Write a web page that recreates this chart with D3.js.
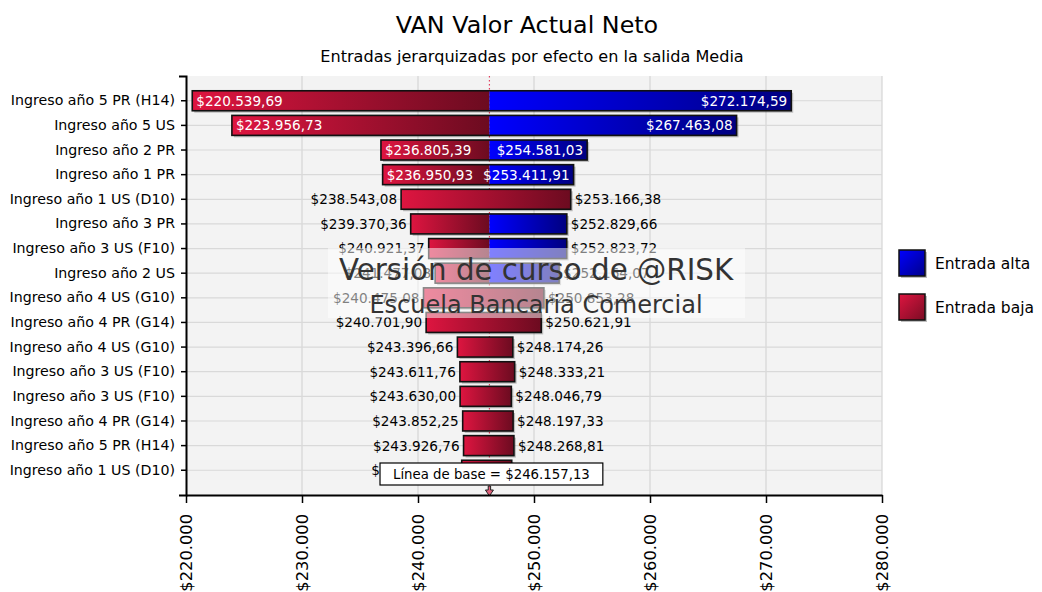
<!DOCTYPE html>
<html><head><meta charset="utf-8">
<script src="https://cdn.jsdelivr.net/npm/d3@7"></script>
<style>body{margin:0;background:#fff}</style>
</head><body>
<svg id="c" width="1042" height="592"></svg>
<script>
const categories = [
  "Ingreso año 5 PR (H14)", "Ingreso año 5 US", "Ingreso año 2 PR", "Ingreso año 1 PR",
  "Ingreso año 1 US (D10)", "Ingreso año 3 PR", "Ingreso año 3 US (F10)", "Ingreso año 2 US",
  "Ingreso año 4 US (G10)", "Ingreso año 4 PR (G14)", "Ingreso año 4 US (G10)", "Ingreso año 3 US (F10)",
  "Ingreso año 3 US (F10)", "Ingreso año 4 PR (G14)", "Ingreso año 5 PR (H14)", "Ingreso año 1 US (D10)"
];
const lowValues = [220539.69, 223956.73, 236805.39, 236950.93, 238543.08, 239370.36, 240921.37, 241477.08,
  240475.08, 240701.90, 243396.66, 243611.76, 243630.00, 243852.25, 243926.76, 243770.00];
const highValues = [272174.59, 267463.08, 254581.03, 253411.91, 253166.38, 252829.66, 252823.72, 252164.07,
  250853.28, 250621.91, 248174.26, 248333.21, 248046.79, 248197.33, 248268.81, 248080.00];
// which input drives the right-hand end of each bar
const rightSeries = ["alta","alta","alta","alta","baja","alta","alta","alta",
  "baja","baja","baja","baja","baja","baja","baja","baja"];
const seriesNames = ["Entrada alta", "Entrada baja"];
const xTickValues = [220000, 230000, 240000, 250000, 260000, 270000, 280000];
const baselineValue = 246157.13;
const titleText = "VAN Valor Actual Neto";
const subtitleText = "Entradas jerarquizadas por efecto en la salida Media";
const watermarkLines = ["Versión de curso de @RISK", "Escuela Bancaria Comercial"];

const FONT = "DejaVu Sans, Verdana, sans-serif";
const loc = d3.formatLocale({decimal: ",", thousands: ".", grouping: [3], currency: ["$", ""]});
const fmtTick = loc.format("$,.0f");
const fmtVal = loc.format("$,.2f");

const svg = d3.select("#c");
const plot = {l: 186, r: 882, t: 76, b: 495};
const x = d3.scaleLinear().domain([xTickValues[0], xTickValues[xTickValues.length-1]]).range([plot.l, plot.r]);
const y = d3.scaleBand().domain(d3.range(categories.length)).range([plot.t, plot.b]).paddingInner(0.19).paddingOuter(0.6);
const color = d3.scaleOrdinal().domain(seriesNames).range(["url(#gBlue)", "url(#gRed)"]);

const defs = svg.append("defs");
function grad(id, c0, c1, diag) {
  const g = defs.append("linearGradient").attr("id", id).attr("x1", 0).attr("y1", 0).attr("x2", 1).attr("y2", diag ? 1 : 0);
  g.append("stop").attr("offset", "0%").attr("stop-color", c0);
  g.append("stop").attr("offset", "100%").attr("stop-color", c1);
}
grad("gRed", "#de1540", "#6c0b20");
grad("gBlue", "#0000ff", "#000080");
grad("gRedD", "#de1540", "#7a0c24", true);
grad("gBlueD", "#0000ff", "#00008a", true);

// titles
svg.append("text").attr("x", 527).attr("y", 33).attr("text-anchor", "middle")
  .attr("font-family", FONT).attr("font-size", 23.8).attr("fill", "#000").text(titleText);
svg.append("text").attr("x", 532).attr("y", 62).attr("text-anchor", "middle")
  .attr("font-family", FONT).attr("font-size", 16.1).attr("fill", "#000").text(subtitleText);

// plot background + grid
svg.append("rect").attr("x", plot.l).attr("y", plot.t).attr("width", plot.r - plot.l).attr("height", plot.b - plot.t).attr("fill", "#f3f3f3");
svg.append("g").selectAll("line").data(xTickValues.slice(1)).join("line")
  .attr("x1", d => x(d)).attr("x2", d => x(d)).attr("y1", plot.t).attr("y2", plot.b)
  .attr("stroke", "#d6d6d6").attr("stroke-width", 1.2);
svg.append("g").selectAll("line").data(d3.range(categories.length)).join("line")
  .attr("x1", plot.l).attr("x2", plot.r).attr("y1", i => y(i) + y.bandwidth()/2).attr("y2", i => y(i) + y.bandwidth()/2)
  .attr("stroke", "#d9d9d9").attr("stroke-width", 1.2);

// baseline dotted line
const bx = x(baselineValue);
svg.append("line").attr("x1", bx).attr("x2", bx).attr("y1", plot.t).attr("y2", plot.b)
  .attr("stroke", "#e0405f").attr("stroke-width", 1.2).attr("stroke-dasharray", "1.5,2.5");

// bars
const rows = d3.range(categories.length).map(i => ({i, lo: lowValues[i], hi: highValues[i], right: rightSeries[i]}));
const gb = svg.append("g");
rows.forEach(d => {
  const y0 = y(d.i), h = y.bandwidth(), x0 = x(d.lo), x1 = x(d.hi);
  gb.append("rect").attr("x", x0 + 2).attr("y", y0 + 2).attr("width", x1 - x0).attr("height", h).attr("fill", "#000").attr("opacity", 0.22);
  if (d.right === "alta") {
    gb.append("rect").attr("x", x0).attr("y", y0).attr("width", bx - x0).attr("height", h).attr("fill", color("Entrada baja"));
    gb.append("rect").attr("x", bx).attr("y", y0).attr("width", x1 - bx).attr("height", h).attr("fill", color("Entrada alta"));
  } else {
    gb.append("rect").attr("x", x0).attr("y", y0).attr("width", x1 - x0).attr("height", h).attr("fill", color("Entrada baja"));
  }
  gb.append("rect").attr("x", x0).attr("y", y0).attr("width", x1 - x0).attr("height", h)
    .attr("fill", "none").attr("stroke", "#111").attr("stroke-width", 1.6);
});

// value labels
const gl = svg.append("g").attr("font-family", FONT).attr("font-size", 13.6);
rows.forEach(d => {
  const cy = y(d.i) + y.bandwidth()/2, x0 = x(d.lo), x1 = x(d.hi);
  const tl = gl.append("text").attr("y", cy).attr("dy", "0.36em").text(fmtVal(d.lo));
  const tr = gl.append("text").attr("y", cy).attr("dy", "0.36em").text(fmtVal(d.hi));
  const w = tl.node().getComputedTextLength() + tr.node().getComputedTextLength();
  if (x1 - x0 > w + 10) {
    tl.attr("x", x0 + 4).attr("text-anchor", "start").attr("fill", "#fff");
    tr.attr("x", x1 - 4).attr("text-anchor", "end").attr("fill", "#fff");
  } else {
    tl.attr("x", x0 - 4).attr("text-anchor", "end").attr("fill", "#000");
    tr.attr("x", x1 + 4).attr("text-anchor", "start").attr("fill", "#000");
  }
});

// watermark
svg.append("rect").attr("x", 328).attr("y", 248).attr("width", 417).attr("height", 70).attr("fill", "#fff").attr("opacity", 0.5);
svg.append("text").attr("x", 536).attr("y", 280).attr("text-anchor", "middle").attr("font-family", FONT)
  .attr("font-size", 29.3).attr("fill", "#333").text(watermarkLines[0]);
svg.append("text").attr("x", 536).attr("y", 313).attr("text-anchor", "middle").attr("font-family", FONT)
  .attr("font-size", 24).attr("fill", "#333").text(watermarkLines[1]);

// baseline label box
const bt = svg.append("text").attr("x", bx + 2).attr("y", 474).attr("dy", "0.36em").attr("text-anchor", "middle")
  .attr("font-family", FONT).attr("font-size", 13.3).attr("fill", "#000")
  .text("Línea de base = " + fmtVal(baselineValue));
const bw = bt.node().getComputedTextLength() + 26;
svg.insert("rect", () => bt.node()).attr("x", bx + 2 - bw/2).attr("y", 463).attr("width", bw).attr("height", 22)
  .attr("fill", "#fff").attr("stroke", "#000").attr("stroke-width", 1.2);
svg.append("path").attr("d", `M${bx-1.2},486 V490 H${bx-4} L${bx},496 L${bx+4},490 H${bx+1.2} V486 Z`)
  .attr("fill", "#e0607a").attr("stroke", "#222").attr("stroke-width", 1);

// axes
const yAxis = svg.append("g").attr("transform", `translate(${plot.l},0)`)
  .call(d3.axisLeft(y).tickFormat(i => categories[i]).tickSize(5).tickSizeOuter(7).tickPadding(6));
yAxis.select(".domain").attr("stroke", "#000").attr("stroke-width", 2);
yAxis.selectAll(".tick line").attr("stroke", "#000").attr("stroke-width", 1.5);
yAxis.selectAll("text").attr("font-family", FONT).attr("font-size", 14.2).attr("fill", "#000");

const xAxis = svg.append("g").attr("transform", `translate(0,${plot.b})`)
  .call(d3.axisBottom(x).tickValues(xTickValues).tickFormat(fmtTick).tickSize(8).tickSizeOuter(0));
xAxis.select(".domain").attr("stroke", "#000").attr("stroke-width", 2);
xAxis.selectAll(".tick line").attr("stroke", "#000").attr("stroke-width", 1.5);
xAxis.selectAll("text").attr("font-family", FONT).attr("font-size", 16.3).attr("fill", "#000")
  .attr("transform", "rotate(-90)").attr("text-anchor", "end").attr("x", -19).attr("y", 0).attr("dy", "0.36em");

// legend
const lg = svg.append("g").attr("font-family", FONT).attr("font-size", 15.5);
seriesNames.forEach((s, k) => {
  const ly = 250 + k * 44;
  lg.append("rect").attr("x", 901).attr("y", ly + 2).attr("width", 26).attr("height", 26).attr("fill", "#000").attr("opacity", 0.25);
  lg.append("rect").attr("x", 899).attr("y", ly).attr("width", 26).attr("height", 26)
    .attr("fill", k === 0 ? "url(#gBlueD)" : "url(#gRedD)").attr("stroke", "#111").attr("stroke-width", 1.5);
  lg.append("text").attr("x", 935).attr("y", ly + 13).attr("dy", "0.36em").attr("fill", "#000").text(s);
});
</script>
</body></html>
